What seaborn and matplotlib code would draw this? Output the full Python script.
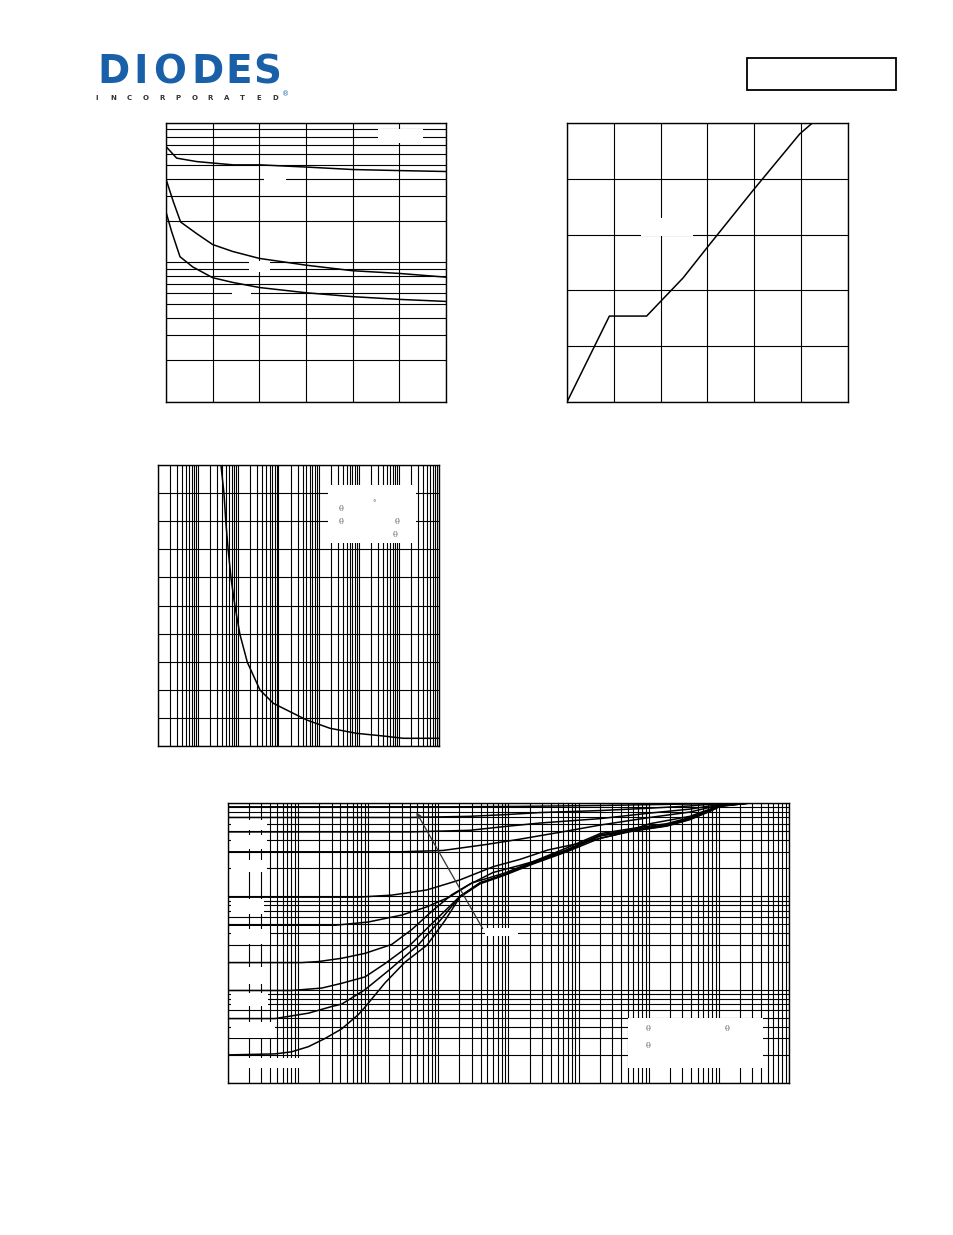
import matplotlib
matplotlib.use("Agg")
import matplotlib.pyplot as plt
import seaborn as sns
import pandas as pd
from matplotlib.patches import Rectangle
from matplotlib.ticker import LogLocator, MultipleLocator, NullFormatter

sns.set_theme(style="white")
plt.rcParams['font.family'] = ['DejaVu Sans']

W, H = 954, 1235

# --- capacitance vs drain-source voltage (log y) ---
ciss_v = [0, 1.14, 3.29, 7.2, 10.1, 15.1, 20, 25, 30]
ciss_c = [678, 560, 529, 501, 501, 483, 464, 456, 449]
coss_v = [0, 0.79, 1.57, 3.29, 5.0, 7.14, 10, 15, 20, 25, 30]
coss_c = [396, 272, 195, 161, 134.5, 120, 107, 95.7, 87.3, 83.5, 78.5]
crss_v = [0, 0.61, 1.5, 2.86, 5, 7.14, 10, 15, 20, 25, 30]
crss_c = [230, 166, 110, 93, 77.8, 72, 66.2, 60.7, 56.9, 54.4, 52.6]

# --- gate charge ---
qg = [0, 1.81, 3.40, 4.96, 5.95, 7.94, 9.94, 10.48]
vgs = [0, 3.08, 3.08, 4.45, 5.5, 7.58, 9.61, 10.0]

# --- single pulse max power ---
pulse_t = [0.0037, 0.0044, 0.0049, 0.0056, 0.0066, 0.0083, 0.011, 0.0168,
           0.0348, 0.0745, 0.195, 0.507, 1.93, 8.91, 41.0, 129, 1000]
ppk = [100, 89.9, 79.6, 69.8, 59.7, 49.6, 39.7, 29.8,
       19.9, 15.2, 12.2, 9.25, 6.3, 4.5, 3.56, 2.74, 2.74]

# --- transient thermal resistance ---
d09_t = [1e-5, 0.0146, 0.146, 2.02, 10.4, 53.8, 144, 1000]
d09_r = [0.91, 0.91, 0.92, 0.94, 0.96, 0.98, 1.0, 1.0]
d07_t = [1e-5, 4.07e-3, 0.0282, 0.089, 0.281, 2.02, 10.4, 38.7, 74.6, 144, 1000]
d07_r = [0.70, 0.70, 0.72, 0.75, 0.79, 0.83, 0.88, 0.93, 0.97, 1.0, 1.0]
d05_t = [1e-5, 4.07e-3, 0.0282, 0.089, 0.281, 2.02, 10.4, 38.7, 74.6, 104, 278, 1000]
d05_r = [0.49, 0.49, 0.51, 0.56, 0.61, 0.68, 0.78, 0.86, 0.93, 0.97, 1.0, 1.0]
d03_t = [1e-5, 2.84e-3, 0.0116, 0.0489, 0.146, 0.676, 2.02, 10.4, 38.7, 74.6, 104, 278, 1000]
d03_r = [0.30, 0.30, 0.31, 0.36, 0.41, 0.50, 0.58, 0.70, 0.80, 0.90, 0.96, 1.0, 1.0]
d01_t = [1e-5, 7.14e-4, 2.16e-3, 6.82e-3, 0.0203, 0.0607, 0.146, 0.366, 1.107, 3.30, 10.4, 38.7, 74.6, 104, 278, 1000]
d01_r = [0.098, 0.098, 0.103, 0.117, 0.15, 0.208, 0.249, 0.314, 0.375, 0.454, 0.60, 0.72, 0.86, 0.95, 1.0, 1.0]
d005_t = [1e-5, 3.36e-4, 9.9e-4, 3.0e-3, 6.82e-3, 0.0146, 0.0282, 0.0601, 0.146, 0.223, 0.676, 2.02, 5.96, 18.0, 38.7, 74.6, 104, 278, 1000]
d005_r = [0.049, 0.049, 0.053, 0.063, 0.077, 0.099, 0.135, 0.18, 0.215, 0.235, 0.33, 0.47, 0.535, 0.60, 0.70, 0.84, 0.94, 1.0, 1.0]
d002_t = [1e-5, 1.12e-4, 1.94e-4, 4.18e-4, 9.0e-4, 2.16e-3, 4.17e-3, 8.03e-3, 0.0155, 0.0299, 0.089, 0.223, 0.676, 2.02, 5.96, 18.0, 38.7, 74.6, 104, 278, 1000]
d002_r = [0.0195, 0.0195, 0.020, 0.0217, 0.0245, 0.0305, 0.044, 0.069, 0.104, 0.139, 0.178, 0.235, 0.315, 0.455, 0.52, 0.585, 0.685, 0.83, 0.935, 1.0, 1.0]
d001_t = [1e-5, 8.1e-5, 2.17e-4, 4.18e-4, 9.0e-4, 1.73e-3, 3.94e-3, 8.95e-3, 0.0203, 0.0392, 0.089, 0.223, 0.676, 2.02, 5.96, 18.0, 38.7, 74.6, 104, 278, 1000]
d001_r = [0.0098, 0.0098, 0.0104, 0.0117, 0.0137, 0.019, 0.030, 0.055, 0.10, 0.14, 0.172, 0.23, 0.31, 0.447, 0.51, 0.575, 0.675, 0.825, 0.93, 1.0, 1.0]
d0005_t = [1e-5, 4.68e-5, 1.40e-4, 3.01e-4, 4.18e-4, 9.0e-4, 2.04e-3, 5.12e-3, 0.01055, 0.0203, 0.0392, 0.089, 0.223, 0.676, 2.02, 5.96, 18.0, 38.7, 74.6, 104, 278, 1000]
d0005_r = [0.0049, 0.0049, 0.0056, 0.0066, 0.007, 0.010, 0.0165, 0.030, 0.055, 0.10, 0.138, 0.171, 0.226, 0.305, 0.443, 0.505, 0.57, 0.67, 0.82, 0.925, 1.0, 1.0]
sp_t = [1e-5, 4.68e-5, 8.1e-5, 1.40e-4, 2.42e-4, 4.18e-4, 7.21e-4, 9.0e-4, 1.73e-3, 3.34e-3, 6.88e-3, 0.0124, 0.0203, 0.0392, 0.089, 0.223, 0.676, 2.02, 5.96, 18.0, 38.7, 74.6, 104, 278, 1000]
sp_r = [0.002, 0.00205, 0.00216, 0.00245, 0.003, 0.0038, 0.0054, 0.0065, 0.0118, 0.0197, 0.030, 0.055, 0.098, 0.136, 0.169, 0.222, 0.30, 0.42, 0.50, 0.565, 0.663, 0.815, 0.92, 1.0, 1.0]

fig = plt.figure(figsize=(W / 100, H / 100), dpi=100)


def add_ax(x0, y0, x1, y1):
    return fig.add_axes([x0 / W, 1 - y1 / H, (x1 - x0) / W, (y1 - y0) / H])


def style(ax):
    ax.set_axisbelow(True)
    ax.grid(True, which='both', color='black', lw=0.8)
    ax.tick_params(which='both', length=0, labelbottom=False, labelleft=False)
    ax.set_xlabel('')
    ax.set_ylabel('')
    for s in ax.spines.values():
        s.set_color('black')
        s.set_linewidth(1.0)


def log_grid(axis):
    axis.set_major_locator(LogLocator(base=10, numticks=20))
    axis.set_minor_locator(LogLocator(base=10, subs=range(2, 10), numticks=200))
    axis.set_major_formatter(NullFormatter())
    axis.set_minor_formatter(NullFormatter())


def blank(ax, x0, x1, y0, y1):
    ax.add_patch(Rectangle((x0 / W, 1 - y1 / H), (x1 - x0) / W, (y1 - y0) / H,
                           transform=fig.transFigure, facecolor='white',
                           edgecolor='none', zorder=1.5))


def glyph(x, y, s, size=6):
    fig.text(x / W, 1 - y / H, s, fontsize=size, color='#666666',
             family='DejaVu Serif', ha='center', va='center')


line_kw = dict(color='black', lw=1.1, estimator=None, sort=False, legend=False)

# chart 1
ax1 = add_ax(166, 123, 446, 402)
for v, c in [(ciss_v, ciss_c), (coss_v, coss_c), (crss_v, crss_c)]:
    sns.lineplot(x=v, y=c, ax=ax1, **line_kw)
ax1.set_yscale('log')
ax1.set_xlim(0, 30)
ax1.set_ylim(10, 1000)
ax1.xaxis.set_major_locator(MultipleLocator(5))
log_grid(ax1.yaxis)
style(ax1)
for r in [(378, 423, 129, 143), (264, 286, 175, 181), (249, 270, 261, 272), (232, 251, 290, 295)]:
    blank(ax1, *r)

# chart 2
ax2 = add_ax(567, 123, 848, 402)
sns.lineplot(x=qg, y=vgs, ax=ax2, **line_kw)
ax2.set_xlim(0, 12)
ax2.set_ylim(0, 10)
ax2.xaxis.set_major_locator(MultipleLocator(2))
ax2.yaxis.set_major_locator(MultipleLocator(2))
style(ax2)
blank(ax2, 641, 693, 218, 236)

# chart 3
ax3 = add_ax(158, 465, 439, 746)
sns.lineplot(x=pulse_t, y=ppk, ax=ax3, **line_kw)
ax3.set_xscale('log')
ax3.set_xlim(1e-4, 1e3)
ax3.set_ylim(0, 100)
log_grid(ax3.xaxis)
ax3.yaxis.set_major_locator(MultipleLocator(10))
style(ax3)
blank(ax3, 328, 416, 485, 543)
glyph(374, 503, '°', 5)
for x, y in [(341, 509), (341, 522), (397, 522), (395, 535)]:
    glyph(x, y, 'θ')

# chart 4
series = [('0.9', d09_t, d09_r), ('0.7', d07_t, d07_r), ('0.5', d05_t, d05_r),
          ('0.3', d03_t, d03_r), ('0.1', d01_t, d01_r), ('0.05', d005_t, d005_r),
          ('0.02', d002_t, d002_r), ('0.01', d001_t, d001_r),
          ('0.005', d0005_t, d0005_r), ('single', sp_t, sp_r)]
df4 = pd.concat([pd.DataFrame({'t': t, 'r': r, 'D': d}) for d, t, r in series])
ax4 = add_ax(228, 803, 789, 1083)
sns.lineplot(data=df4, x='t', y='r', hue='D', units='D', palette=['black'] * len(series),
             ax=ax4, estimator=None, sort=False, legend=False, lw=1.1)
ax4.set_xscale('log')
ax4.set_yscale('log')
ax4.set_xlim(1e-5, 1e3)
ax4.set_ylim(1e-3, 1)
log_grid(ax4.xaxis)
log_grid(ax4.yaxis)
style(ax4)
for r in [(231, 267, 820, 830), (231, 267, 835, 849), (231, 267, 860, 872),
          (231, 264, 899, 914), (231, 270, 929, 944), (231, 265, 967, 984),
          (231, 268, 993, 1006), (231, 275, 1022, 1038), (231, 300, 1058, 1068),
          (485, 518, 928, 936), (628, 763, 1018, 1068)]:
    blank(ax4, *r)
ax4.annotate('', xy=(0.00465, 0.841), xytext=(0.0448, 0.0425),
             arrowprops=dict(arrowstyle='-|>', color='#333333', lw=0.9, mutation_scale=8))
for x, y in [(648, 1029), (727, 1029), (648, 1046)]:
    glyph(x, y, 'θ')

# logo
for ch, cx in zip('DIODES', [114, 141, 170, 208, 239, 267]):
    fig.text(cx / W, 1 - 83 / H, ch, fontsize=28, weight='bold', color='#1a60a8',
             family='DejaVu Sans', ha='center', va='baseline')
for i, ch in enumerate('INCORPORATED'):
    fig.text((97 + i * 16.2) / W, 1 - 98 / H, ch, fontsize=5, weight='bold',
             color='#333333', ha='center', va='center')
fig.text(286 / W, 1 - 94 / H, '®', fontsize=5, color='#1a60a8', ha='center', va='center')

# part-number box
fig.add_artist(Rectangle((747 / W, 1 - 90 / H), 149 / W, 32 / H, transform=fig.transFigure,
                         fill=False, lw=1.3, edgecolor='black'))

fig.savefig('out.png', dpi=100, facecolor='white')
